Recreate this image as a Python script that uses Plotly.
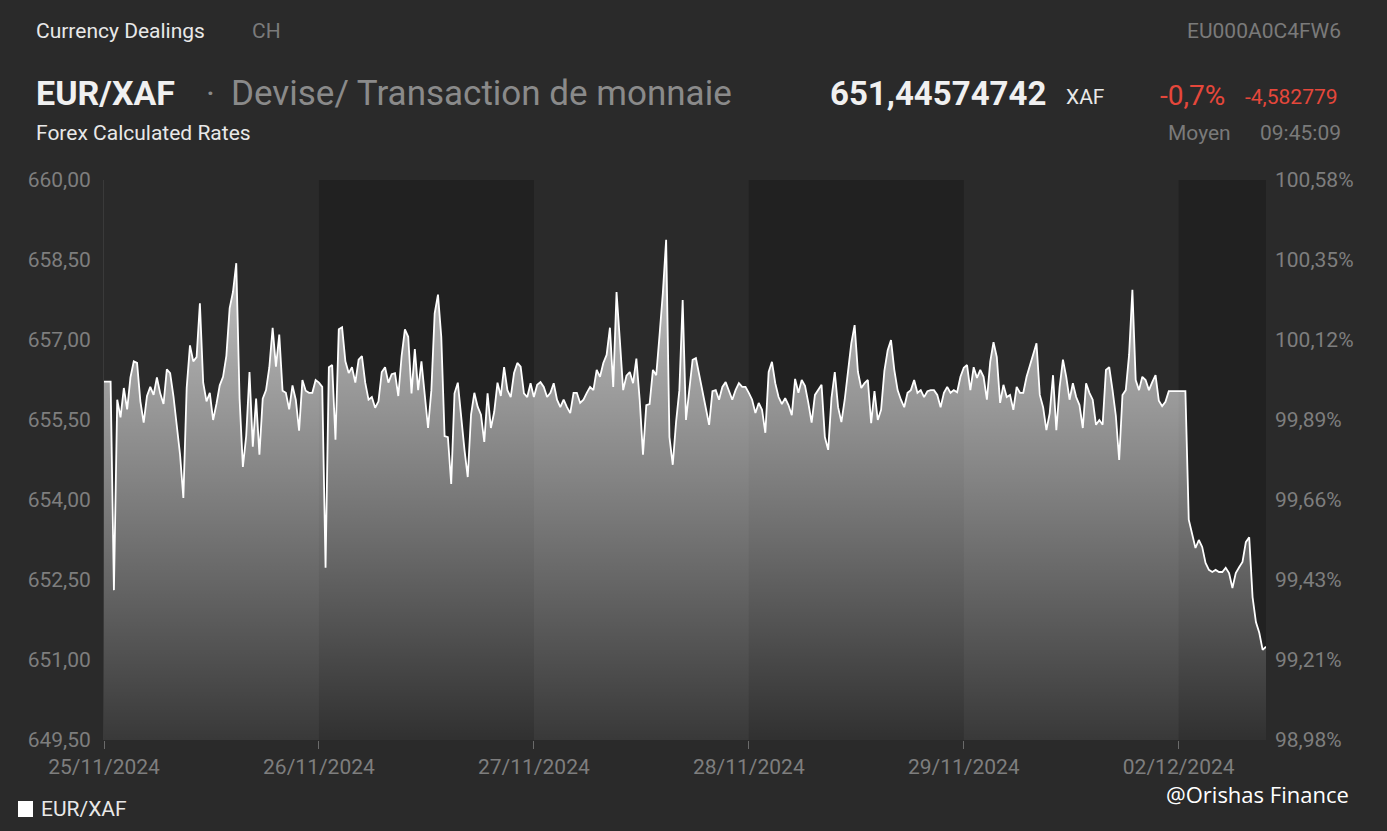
import pandas as pd
import plotly.graph_objects as go

# ---------------- data ----------------
day_starts = ["2024-11-25", "2024-11-26", "2024-11-27", "2024-11-28", "2024-11-29", "2024-12-02"]
last_day_end = "09:45"

day1 = [656.22, 656.22, 656.22, 652.31, 655.88, 655.55, 656.10, 655.70, 656.30, 656.60,
        656.57, 655.85, 655.45, 655.95, 656.12, 655.97, 656.30, 656.00, 655.80, 656.45,
        656.38, 655.95, 655.40, 654.85, 654.04, 656.10, 656.90, 656.60, 656.68, 657.69,
        656.20, 655.85, 656.01, 655.50, 655.80, 656.15, 656.31, 656.70, 657.60, 657.90,
        658.44, 655.90, 654.62, 655.20, 656.40, 655.00, 655.90, 654.85, 655.90, 656.06,
        656.49, 657.23, 656.50, 657.10, 656.05, 656.01, 655.70, 656.15, 655.88, 655.30,
        656.25, 656.05, 656.01, 656.01, 656.25]
day2 = [656.20, 656.12, 652.73, 656.49, 656.53, 655.13, 657.20, 657.24, 656.60, 656.38,
        656.49, 656.20, 656.63, 656.70, 656.20, 655.88, 655.93, 655.73, 655.85, 656.40,
        656.49, 656.20, 656.36, 656.38, 655.95, 656.70, 657.20, 657.06, 656.00, 656.83,
        656.06, 656.60, 655.90, 655.35, 656.06, 657.50, 657.85, 657.06, 655.20, 655.18,
        654.30, 656.00, 656.20, 655.56, 654.95, 654.43, 655.60, 656.01, 655.75, 655.60,
        655.09, 656.00, 655.35, 655.65, 656.20, 655.95, 656.49, 656.06, 655.93, 656.38,
        656.57, 656.50, 656.00, 655.93, 656.19]
day3 = [655.93, 656.16, 656.21, 656.12, 655.93, 656.01, 656.19, 655.88, 655.74, 655.88,
        655.74, 655.63, 656.01, 656.01, 655.82, 655.88, 656.01, 656.12, 656.06, 656.44,
        656.31, 656.57, 656.72, 657.23, 656.12, 657.90, 657.00, 656.06, 656.33, 656.40,
        656.19, 656.65, 655.88, 654.85, 655.78, 655.80, 656.44, 656.34, 657.09, 657.88,
        658.88, 655.18, 654.66, 655.46, 656.06, 657.75, 655.50, 656.12, 656.63, 656.66,
        656.36, 656.04, 655.76, 655.41, 656.04, 656.06, 655.88, 656.12, 656.21, 656.06,
        655.88, 656.06, 656.19, 656.12, 656.12]
day4 = [656.01, 655.88, 655.63, 655.82, 655.69, 655.26, 656.40, 656.59, 656.19, 655.93,
        655.80, 655.91, 655.78, 655.59, 656.27, 656.01, 656.25, 656.14, 655.82, 655.45,
        655.97, 656.06, 656.16, 655.18, 654.94, 655.91, 656.40, 655.74, 655.46, 655.88,
        656.40, 656.94, 657.28, 656.40, 656.10, 656.19, 656.25, 655.44, 656.04, 655.50,
        655.69, 656.42, 656.81, 657.00, 656.44, 656.06, 655.88, 655.74, 656.01, 656.06,
        656.25, 656.01, 656.06, 655.93, 656.04, 656.06, 656.06, 655.97, 655.74, 656.01,
        656.12, 656.01, 656.06, 656.02, 656.31]
day5 = [656.48, 656.53, 656.06, 656.49, 656.29, 656.44, 656.31, 655.88, 656.59, 656.96,
        656.68, 655.82, 656.16, 655.93, 655.97, 655.69, 656.12, 656.01, 656.01, 656.31,
        656.53, 656.72, 656.94, 655.97, 655.74, 655.31, 655.63, 656.34, 655.31, 656.12,
        656.63, 656.31, 655.88, 656.19, 655.93, 655.78, 655.35, 656.19, 656.01, 655.88,
        655.41, 655.50, 655.41, 656.44, 656.49, 656.06, 655.58, 654.75, 655.97, 656.06,
        656.72, 657.94, 656.25, 656.06, 656.31, 656.25, 656.06, 656.21, 656.34, 655.86,
        655.76, 655.84, 656.04, 656.04, 656.04]
day6 = [656.04, 656.04, 656.04, 653.63, 653.38, 653.10, 653.25, 653.12, 652.82, 652.69,
        652.65, 652.69, 652.65, 652.65, 652.73, 652.63, 652.35, 652.63, 652.74, 652.84,
        653.21, 653.30, 652.18, 651.71, 651.51, 651.19, 651.25]

full_days = [day1, day2, day3, day4, day5]

y_ticks = [649.5, 651.0, 652.5, 654.0, 655.5, 657.0, 658.5, 660.0]
pct_labels = ["98,98%", "99,21%", "99,43%", "99,66%", "99,89%", "100,12%", "100,35%", "100,58%"]
dark_days = ["2024-11-26", "2024-11-28", "2024-12-02"]

# ---------------- build series ----------------
times, vals = [], []
for start, dv in zip(day_starts[:5], full_days):
    n = len(dv)
    for i, v in enumerate(dv):
        times.append(pd.Timestamp(start) + pd.Timedelta(hours=24 * i / n))
        vals.append(v)
end_td = pd.Timedelta(last_day_end + ":00")
n6 = len(day6)
for i, v in enumerate(day6):
    times.append(pd.Timestamp(day_starts[5]) + end_td * i / (n6 - 1))
    vals.append(v)

x_end = times[-1]

BG = "#2a2a2a"
BAND = "#212121"
TICK = "#7e7e7e"
WHITE = "#e8e8e8"
GRAY = "#8a8a8a"
RED = "#e5473b"

fig = go.Figure()
fig.add_trace(go.Scatter(
    x=times, y=vals, mode="lines",
    line=dict(color="#ffffff", width=1.8),
    fill="tozeroy",
    fillgradient=dict(type="vertical",
                      colorscale=[[0, "rgba(255,255,255,0.07)"], [1, "rgba(255,255,255,0.82)"]],
                      start=649.5, stop=660),
    hoverinfo="skip", showlegend=False,
))
fig.add_trace(go.Scatter(
    x=[times[0]], y=[vals[0]], yaxis="y2", mode="markers",
    marker=dict(opacity=0), hoverinfo="skip", showlegend=False,
))

# dark day bands
for d in dark_days:
    s = pd.Timestamp(d)
    k = day_starts.index(d) + 1
    nxt = pd.Timestamp(day_starts[k]) if k < len(day_starts) else x_end
    fig.add_shape(type="rect", xref="x", yref="paper", x0=s, x1=nxt, y0=0, y1=1,
                  fillcolor=BAND, line=dict(width=0), layer="below")

# ---------------- header / footer texts ----------------
W_PLOT = 1162.0
H_PLOT = 560.0
L = 104.0
B = 740.0


def px(xp):
    return (xp - L) / W_PLOT


def py(yp):
    return (B - yp) / H_PLOT


def txt(s, x, y, size, color, anchor="left", family="Roboto", bold=False):
    fig.add_annotation(text=("<b>%s</b>" % s) if bold else s, x=px(x), y=py(y),
                       xref="paper", yref="paper", xanchor=anchor, yanchor="middle",
                       showarrow=False, font=dict(family=family, size=size, color=color))


txt("Currency Dealings", 34, 31, 21, WHITE)
txt("CH", 250, 31, 21, "#7a7a7a")
txt("EU000A0C4FW6", 1343, 31, 21, "#7a7a7a", anchor="right")
txt("EUR/XAF", 34, 93, 34, "#f0f0f0", bold=True)
txt("·", 204, 93, 34, GRAY)
txt("Devise/ Transaction de monnaie", 229, 93, 35, GRAY)
txt("651,44574742", 828, 93, 33, "#f0f0f0", bold=True)
txt("XAF", 1064, 97, 21, WHITE)
txt("-0,7%", 1158, 95, 28, RED)
txt("-4,582779", 1243, 97, 21, RED)
txt("Forex Calculated Rates", 34, 133, 21, WHITE)
txt("Moyen", 1166, 133, 21, "#7a7a7a")
txt("09:45:09", 1343, 133, 21, "#7a7a7a", anchor="right")

# legend marker + label
fig.add_shape(type="rect", xref="paper", yref="paper",
              x0=px(18), x1=px(33), y0=py(817), y1=py(801),
              fillcolor="#ffffff", line=dict(width=0))
txt("EUR/XAF", 39, 809, 21, WHITE)
txt("@Orishas Finance", 1164, 794, 22, "#ffffff", family="Open Sans")

fig.update_layout(
    width=1387, height=831, autosize=False,
    margin=dict(l=104, r=121, t=180, b=91),
    paper_bgcolor=BG, plot_bgcolor=BG,
    separators=", ",
    font=dict(family="Roboto", color=TICK),
    xaxis=dict(
        type="date", range=[times[0], x_end],
        rangebreaks=[dict(bounds=["sat", "mon"])],
        tickvals=[pd.Timestamp(d) for d in day_starts],
        tickformat="%d/%m/%Y",
        ticks="outside", ticklen=8, tickcolor="#6a6a6a", tickwidth=1,
        tickfont=dict(family="Roboto", size=21, color=TICK),
        showgrid=False, zeroline=False, showline=False,
    ),
    yaxis=dict(
        range=[649.5, 660], tickvals=y_ticks, tickformat=".2f",
        ticks="", ticklabelstandoff=8,
        tickfont=dict(family="Roboto", size=21, color=TICK),
        showgrid=False, zeroline=False,
        showline=True, linecolor="#3a3a3a", linewidth=1,
    ),
    yaxis2=dict(
        overlaying="y", side="right", range=[649.5, 660],
        tickvals=y_ticks, ticktext=pct_labels,
        ticks="", ticklabelstandoff=8,
        tickfont=dict(family="Roboto", size=21, color=TICK),
        showgrid=False, zeroline=False, showline=False,
    ),
)

fig.write_html(
    "out.html",
    config={"displayModeBar": False},
    post_script="document.body.style.margin='0';document.body.style.padding='0';"
                "document.body.style.background='#2a2a2a';"
                "document.documentElement.style.background='#2a2a2a';",
)
